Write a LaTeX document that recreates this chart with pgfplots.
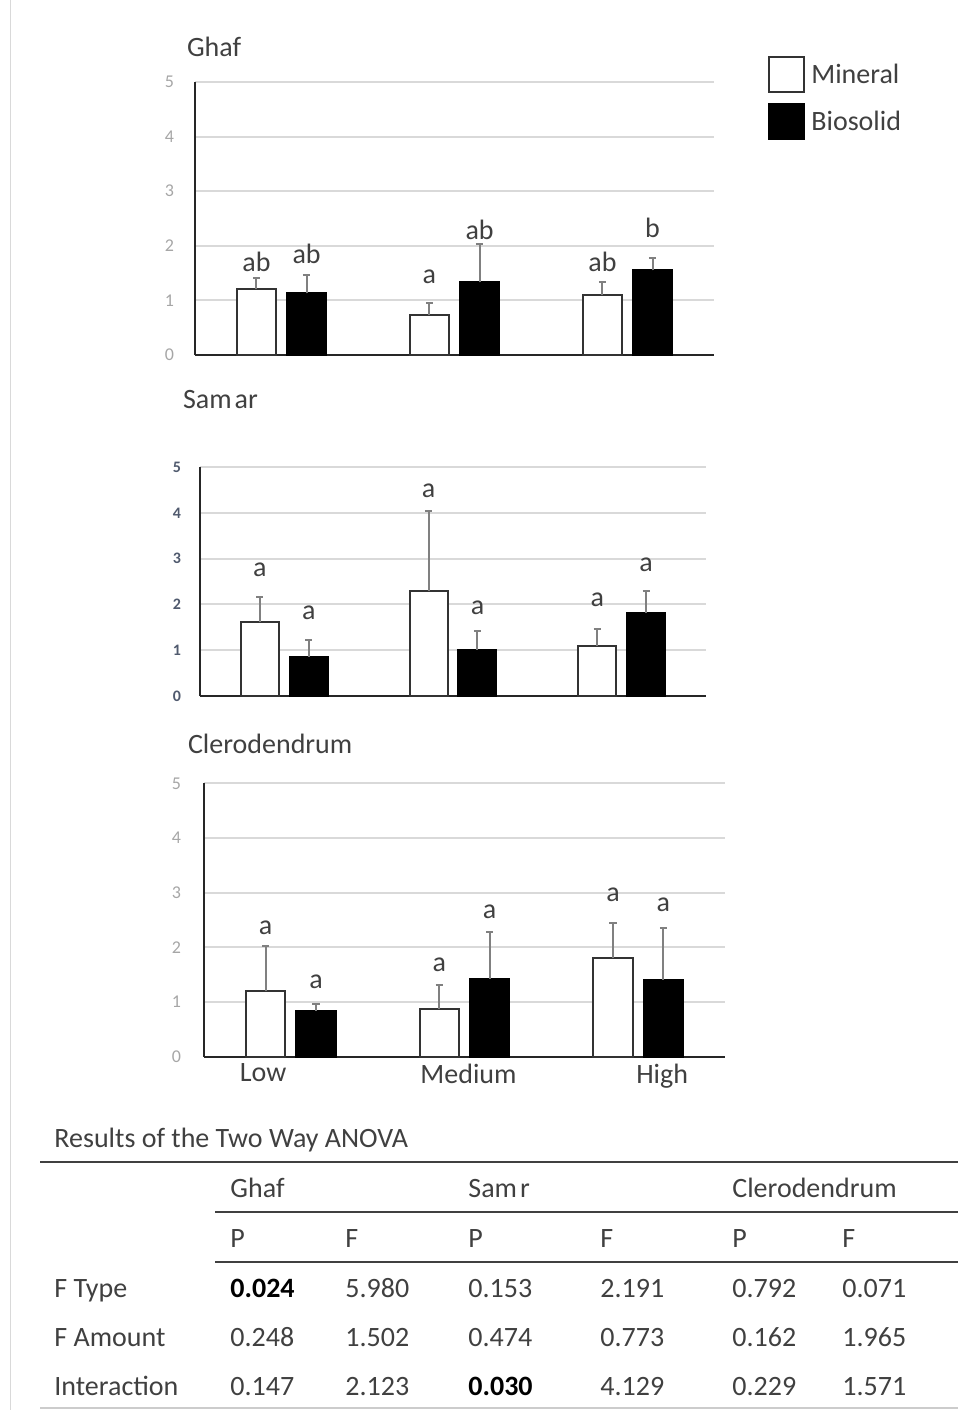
\documentclass[border=0pt]{standalone}
\usepackage{fontspec}
\setmainfont{Carlito}
\usepackage{pgfplots}
\usepackage{pgfplotstable}
\pgfplotsset{compat=1.18}
\definecolor{gridgray}{HTML}{D9D9D9}
\definecolor{tickgray}{HTML}{A6A6A6}
\definecolor{txt}{HTML}{404040}
\definecolor{errgray}{HTML}{808080}
\definecolor{samtick}{RGB}{80,90,110}

% Ghaf
\pgfplotstableread{
x y e
-0.145 1.20 0.21
0.855 0.73 0.23
1.855 1.09 0.25
}\ghafM
\pgfplotstableread{
x y e
0.145 1.13 0.34
1.145 1.33 0.70
2.145 1.55 0.22
}\ghafB
\pgfplotstableread{
x y lab
-0.145 1.71 ab
0.145 1.85 ab
0.855 1.44 a
1.145 2.29 ab
1.855 1.70 ab
2.145 2.32 b
}\ghafL
% Samar
\pgfplotstableread{
x y e
-0.145 1.61 0.56
0.855 2.30 1.75
1.855 1.09 0.37
}\samM
\pgfplotstableread{
x y e
0.145 0.86 0.37
1.145 1.01 0.40
2.145 1.81 0.49
}\samB
\pgfplotstableread{
x y lab
-0.145 2.76 a
0.145 1.81 a
0.855 4.47 a
1.145 1.92 a
1.855 2.09 a
2.145 2.87 a
}\samL
% Clerodendrum
\pgfplotstableread{
x y e
-0.145 1.21 0.81
0.855 0.87 0.44
1.855 1.80 0.65
}\clM
\pgfplotstableread{
x y e
0.145 0.84 0.12
1.145 1.43 0.86
2.145 1.41 0.94
}\clB
\pgfplotstableread{
x y lab
-0.145 2.35 a
0.145 1.37 a
0.855 1.68 a
1.145 2.65 a
1.855 2.96 a
2.145 2.77 a
}\clL

\pgfplotsset{
  panel/.style={
    scale only axis, anchor=south west,
    xmin=-0.5, xmax=2.5, ymin=0, ymax=5,
    ytick={0,1,2,3,4,5}, xtick=\empty,
    ymajorgrids, grid style={line width=1pt, gridgray},
    axis x line*=bottom, axis y line*=left,
    axis line style={line width=1pt, black!85},
    major tick length=0pt,
    yticklabel style={font=\fontsize{9}{10}\selectfont, text=tickgray},
    /pgf/number format/assume math mode=true,
    clip=false,
  },
  errs/.style={
    error bars/y dir=plus, error bars/y explicit,
    error bars/error bar style={line width=1pt, errgray},
    error bars/error mark options={line width=1pt, errgray, mark size=1.8pt, rotate=90},
  },
  mineral/.style={ybar, bar width=0.225, bar shift=0pt, fill=white, draw=black!80, line width=1pt, errs},
  biosolid/.style={ybar, bar width=0.225, bar shift=0pt, fill=black, draw=black, line width=1pt, errs},
  letters/.style={only marks, mark=*, mark size=0pt, mark options={draw=none, fill=none},
    nodes near coords, point meta=explicit symbolic,
    every node near coord/.append style={anchor=center, font=\fontsize{14}{16}\selectfont, text=txt},
    forget plot},
}

\begin{document}
\begin{tikzpicture}[font=\fontsize{14}{16.8}\selectfont]
\path[use as bounding box] (0,0) rectangle (483pt,-705pt);
\draw[gray!30, line width=0.5pt] (5pt,0) -- (5pt,-705pt);

% Ghaf
\begin{axis}[panel, at={(97.5pt,-177.5pt)}, width=259.5pt, height=136.5pt,
  yticklabel style={xshift=-7pt},
  legend style={draw=none, fill=none, at={(1.104,1.095)}, anchor=north west,
    inner sep=0pt, row sep=5pt, font=\fontsize{14}{16.8}\selectfont, text=txt,
    nodes={inner sep=3pt}},
  legend cell align=left]
\addplot[mineral, legend image code/.code={\draw[fill=white, draw=black!80, line width=1pt] (0pt,-8.75pt) rectangle (17.5pt,8.75pt);}] table[x=x, y=y, y error=e] {\ghafM};
\addlegendentry{Mineral}
\addplot[biosolid, legend image code/.code={\draw[fill=black, draw=black, line width=1pt] (0pt,-8.75pt) rectangle (17.5pt,8.75pt);}] table[x=x, y=y, y error=e] {\ghafB};
\addlegendentry{Biosolid}
\addplot[letters] table[x=x, y=y, meta=lab] {\ghafL};
\end{axis}
\node[anchor=base west, text=txt] at (90pt,-28pt) {Ghaf};

% Samar
\begin{axis}[panel, at={(100pt,-348pt)}, width=253pt, height=114.5pt,
  yticklabel style={xshift=-6pt, font=\fontsize{8}{9}\selectfont\bfseries, text=samtick}]
\addplot[mineral] table[x=x, y=y, y error=e] {\samM};
\addplot[biosolid] table[x=x, y=y, y error=e] {\samB};
\addplot[letters] table[x=x, y=y, meta=lab] {\samL};
\end{axis}
\node[anchor=base west, text=txt] at (88pt,-204pt) {Sam\kern1.5pt ar};

% Clerodendrum
\begin{axis}[panel, at={(102pt,-528.35pt)}, width=260.5pt, height=136.7pt,
  yticklabel style={xshift=-8pt},
  xtick={-0.16,1.023,2.138}, xticklabels={Low,Medium,High},
  xticklabel style={font=\fontsize{14}{16.8}\selectfont, text=txt, anchor=north}]
\addplot[mineral] table[x=x, y=y, y error=e] {\clM};
\addplot[biosolid] table[x=x, y=y, y error=e] {\clB};
\addplot[letters] table[x=x, y=y, meta=lab] {\clL};
\end{axis}
\node[anchor=base west, text=txt] at (90.5pt,-376.5pt) {Clerodendrum};

% Table
\begin{scope}[every node/.style={anchor=base west, text=txt, inner sep=0pt}]
\node at (27pt,-573.5pt) {Results of the Two Way ANOVA};
\draw[txt, line width=1pt] (20pt,-581pt) -- (479pt,-581pt);
\node at (115pt,-598.5pt) {Ghaf};
\node at (234pt,-598.5pt) {Sam\kern1.5pt r};
\node at (366pt,-598.5pt) {Clerodendrum};
\draw[txt, line width=1pt] (107.5pt,-606pt) -- (479pt,-606pt);
\node at (115pt,-623.5pt) {P};
\node at (172.5pt,-623.5pt) {F};
\node at (234pt,-623.5pt) {P};
\node at (300pt,-623.5pt) {F};
\node at (366pt,-623.5pt) {P};
\node at (421pt,-623.5pt) {F};
\draw[txt, line width=1pt] (107.5pt,-631pt) -- (479pt,-631pt);
% rows
\node at (27pt,-648.5pt) {F Type};
\node[text=black] at (115pt,-648.5pt) {\bfseries 0.024};
\node at (172.5pt,-648.5pt) {5.980};
\node at (234pt,-648.5pt) {0.153};
\node at (300pt,-648.5pt) {2.191};
\node at (366pt,-648.5pt) {0.792};
\node at (421pt,-648.5pt) {0.071};
\node at (27pt,-673pt) {F Amount};
\node at (115pt,-673pt) {0.248};
\node at (172.5pt,-673pt) {1.502};
\node at (234pt,-673pt) {0.474};
\node at (300pt,-673pt) {0.773};
\node at (366pt,-673pt) {0.162};
\node at (421pt,-673pt) {1.965};
\node at (27pt,-697.5pt) {Interaction};
\node at (115pt,-697.5pt) {0.147};
\node at (172.5pt,-697.5pt) {2.123};
\node[text=black] at (234pt,-697.5pt) {\bfseries 0.030};
\node at (300pt,-697.5pt) {4.129};
\node at (366pt,-697.5pt) {0.229};
\node at (421pt,-697.5pt) {1.571};
\draw[gray!40, line width=0.6pt] (20pt,-704pt) -- (479pt,-704pt);
\end{scope}
\end{tikzpicture}
\end{document}
